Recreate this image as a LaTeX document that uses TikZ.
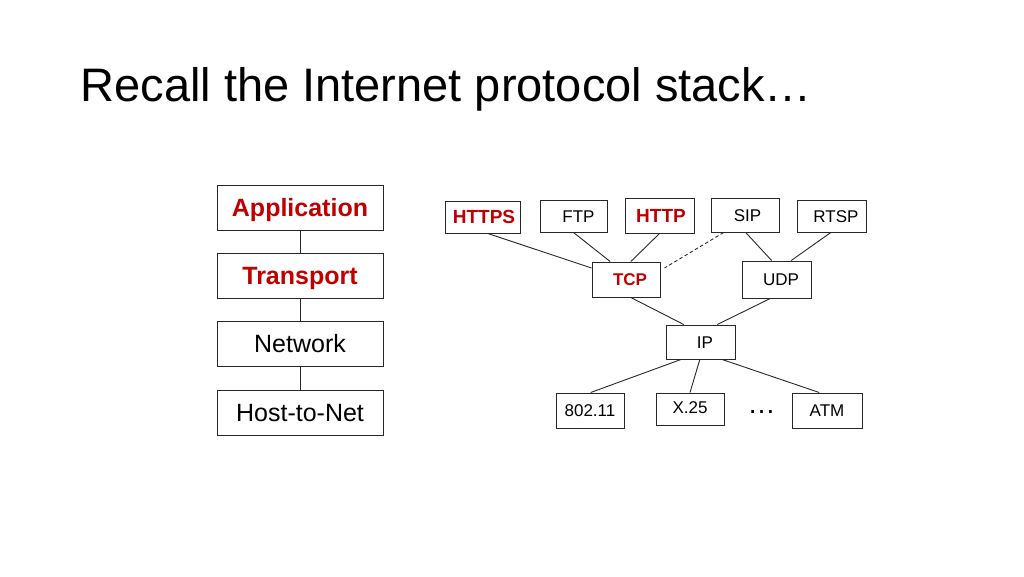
\documentclass[tikz,border=0pt]{standalone}
\usepackage{fontspec}
\setmainfont{Liberation Sans}
\usetikzlibrary{calc}
\definecolor{hl}{RGB}{192,0,0}
\definecolor{edge}{RGB}{40,40,40}
\begin{document}
\begin{tikzpicture}[x=1pt,y=-1pt,
  layer/.style={draw=edge,line width=1pt,inner sep=0pt,minimum width=166pt,minimum height=45pt,text height=18pt,text depth=0pt,font=\fontsize{25}{30}\selectfont},
  proto/.style={draw=edge,line width=1pt,inner sep=0pt,text height=12.5pt,text depth=0pt,font=\fontsize{17}{20}\selectfont},
  hot/.style={text=hl,text height=13.5pt,font=\fontsize{19}{22}\selectfont\bfseries},
  link/.style={draw=edge,line width=0.9pt}]
\useasboundingbox (0,0) rectangle (1024,576);
\node[anchor=base west,font=\fontsize{47}{56}\selectfont] (title) at (77,101) {Recall the Internet protocol stack…};
% left stack
\node[layer,text=hl,font=\fontsize{25}{30}\selectfont\bfseries] (app) at (300,207.5) {Application};
\node[layer,text=hl,font=\fontsize{25}{30}\selectfont\bfseries] (trans) at (300,275.5) {Transport};
\node[layer] (net) at (300,343.5) {Network};
\node[layer] (host) at (300,412.5) {Host-to-Net};
\draw[link] (app) -- (trans);
\draw[link] (trans) -- (net);
\draw[link] (net) -- (host);
% protocol graph
\node[proto,hot,minimum width=75pt,minimum height=32pt] (https) at (482.5,217) {\hspace*{3pt}HTTPS};
\node[proto,minimum width=67pt,minimum height=32pt] (ftp) at (573.5,216) {\hspace*{10pt}FTP};
\node[proto,hot,minimum width=69pt,minimum height=35pt] (http) at (659.5,215.5) {\hspace*{3pt}HTTP};
\node[proto,minimum width=68pt,minimum height=34pt] (sip) at (745,215) {\hspace*{5pt}SIP};
\node[proto,minimum width=69pt,minimum height=32pt] (rtsp) at (831.5,216) {\hspace*{9pt}RTSP};
\node[proto,text=hl,font=\fontsize{17}{20}\selectfont\bfseries,minimum width=68pt,minimum height=35pt] (tcp) at (626,279.5) {\hspace*{8pt}TCP};
\node[proto,minimum width=69pt,minimum height=37pt] (udp) at (776.5,279.5) {\hspace*{9pt}UDP};
\node[proto,minimum width=69pt,minimum height=34pt] (ip) at (700.5,342) {\hspace*{9pt}IP};
\node[proto,minimum width=68pt,minimum height=35pt] (wifi) at (590,410.5) {802.11};
\node[proto,text depth=3pt,minimum width=68pt,minimum height=32pt] (x25) at (690,409) {X.25};
\node[proto,minimum width=70pt,minimum height=35pt] (atm) at (827,410.5) {ATM};
\node[anchor=base,inner sep=0pt,font=\fontsize{28}{30}\selectfont] (dots) at (761.5,413) {…};
% connectors
\draw[link] ($(https.south west)!0.57!(https.south east)$) -- ($(tcp.north west)!0.18!(tcp.south west)$);
\draw[link] ($(ftp.south west)!0.5!(ftp.south east)$) -- ($(tcp.north west)!0.27!(tcp.north east)$);
\draw[link] ($(http.south west)!0.5!(http.south east)$) -- ($(tcp.north west)!0.57!(tcp.north east)$);
\draw[link,dash pattern=on 3.5pt off 2.5pt] ($(sip.south west)!0.19!(sip.south east)$) -- ($(tcp.north east)!0.18!(tcp.south east)+(4,0)$);
\draw[link] ($(sip.south west)!0.51!(sip.south east)$) -- ($(udp.north west)!0.43!(udp.north east)$);
\draw[link] ($(rtsp.south west)!0.49!(rtsp.south east)$) -- ($(udp.north west)!0.71!(udp.north east)$);
\draw[link] ($(tcp.south west)!0.57!(tcp.south east)$) -- ($(ip.north west)!0.26!(ip.north east)$);
\draw[link] ($(udp.south west)!0.41!(udp.south east)$) -- ($(ip.north west)!0.74!(ip.north east)$);
\draw[link] ($(ip.south west)!0.22!(ip.south east)$) -- ($(wifi.north west)!0.51!(wifi.north east)$);
\draw[link] ($(ip.south west)!0.49!(ip.south east)$) -- ($(x25.north west)!0.5!(x25.north east)$);
\draw[link] ($(ip.south west)!0.81!(ip.south east)$) -- ($(atm.north west)!0.39!(atm.north east)$);
\end{tikzpicture}
\end{document}
